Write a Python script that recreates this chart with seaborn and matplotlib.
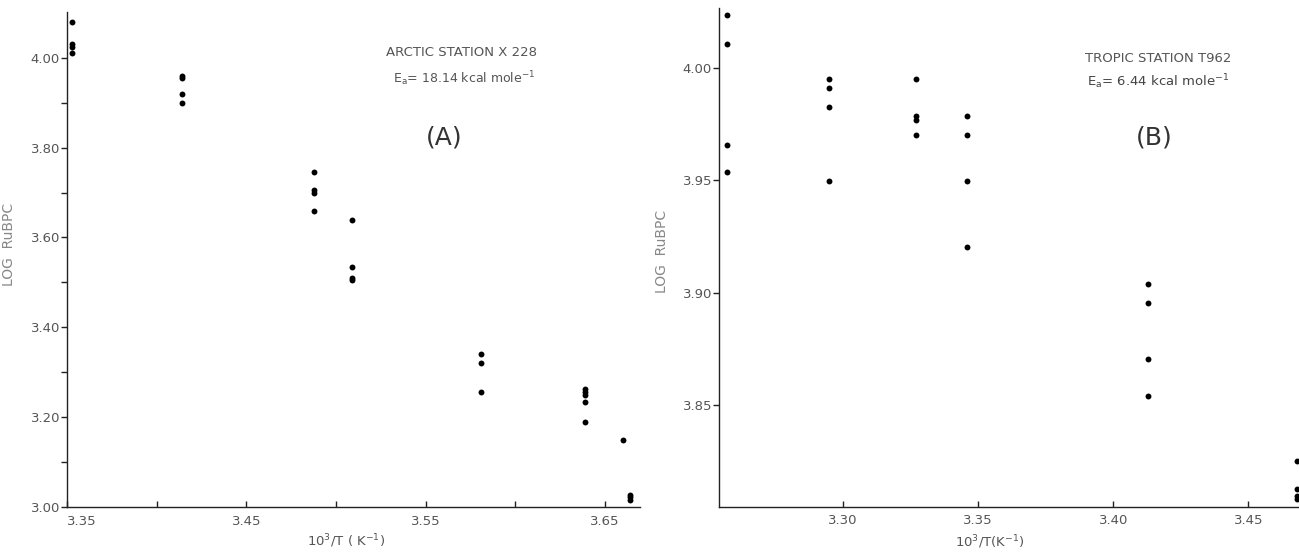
import numpy as np
import pandas as pd
import matplotlib
matplotlib.use("Agg")
import matplotlib.pyplot as plt
import seaborn as sns

# (A) arctic station X 228 : 10^3/T vs log RuBPC
arctic_x = [3.353, 3.353, 3.353, 3.353,
            3.414, 3.414, 3.414, 3.414,
            3.488, 3.488, 3.488, 3.488,
            3.509, 3.509, 3.509, 3.509,
            3.581, 3.581, 3.581,
            3.639, 3.639, 3.639, 3.639, 3.639,
            3.660,
            3.664, 3.664, 3.664]
arctic_y = [4.08, 4.03, 4.025, 4.01,
            3.96, 3.955, 3.92, 3.90,
            3.745, 3.705, 3.70, 3.66,
            3.64, 3.535, 3.51, 3.505,
            3.34, 3.32, 3.255,
            3.262, 3.255, 3.25, 3.233, 3.19,
            3.15,
            3.027, 3.022, 3.015]

# (B) tropic station T962
tropic_x = [3.257, 3.257, 3.257, 3.257,
            3.295, 3.295, 3.295, 3.295,
            3.327, 3.327, 3.327, 3.327,
            3.346, 3.346, 3.346, 3.346,
            3.413, 3.413, 3.413, 3.413,
            3.468, 3.468, 3.468, 3.468]
tropic_y = [4.0235, 4.0105, 3.9655, 3.9535,
            3.995, 3.991, 3.9825, 3.9495,
            3.995, 3.9785, 3.977, 3.970,
            3.9785, 3.970, 3.9495, 3.9205,
            3.904, 3.8955, 3.8705, 3.854,
            3.825, 3.8125, 3.8095, 3.808]

arctic_major_x = [3.35, 3.45, 3.55, 3.65]
arctic_minor_x = [3.40, 3.50, 3.60]
arctic_major_y = [3.00, 3.20, 3.40, 3.60, 3.80, 4.00]
arctic_minor_y = [3.10, 3.30, 3.50, 3.70, 3.90]
tropic_ticks_x = [3.30, 3.35, 3.40, 3.45]
tropic_ticks_y = [3.85, 3.90, 3.95, 4.00]

sns.set_theme(style="ticks")
plt.rcParams["font.family"] = ["DejaVu Sans"]

fig = plt.figure(figsize=(12.99, 5.53), dpi=100)
ax1 = fig.add_axes([0.0516, 0.0832, 0.4411, 0.8951])
ax2 = fig.add_axes([0.5535, 0.0832, 0.4457, 0.9024])

df_a = pd.DataFrame({"x": arctic_x, "y": arctic_y})
df_b = pd.DataFrame({"x": tropic_x, "y": tropic_y})

for ax, df in [(ax1, df_a), (ax2, df_b)]:
    sns.scatterplot(data=df, x="x", y="y", ax=ax, color="black", s=18,
                    linewidth=0, clip_on=False, legend=False)
    sns.despine(ax=ax)
    for sp in ["left", "bottom"]:
        ax.spines[sp].set_color("#222222")
        ax.spines[sp].set_linewidth(1.0)

lab_col = "#555555"

# panel A axes
ax1.set_xlim(3.35, 3.6696)
ax1.set_ylim(3.00, 4.102)
ax1.set_xticks(arctic_major_x)
ax1.set_xticks(arctic_minor_x, minor=True)
ax1.set_yticks(arctic_major_y)
ax1.set_yticks(arctic_minor_y, minor=True)
ax1.set_xticklabels([f"{v:.2f}" for v in arctic_major_x])
ax1.set_yticklabels([f"{v:.2f}" for v in arctic_major_y])
ax1.get_xticklabels()[0].set_ha("left")
ax1.tick_params(axis="x", which="both", direction="in", length=4, width=1,
                color="#222222", pad=6, labelsize=9.5, labelcolor=lab_col)
ax1.tick_params(axis="y", which="both", direction="out", length=4, width=1,
                color="#222222", pad=1, labelsize=9.5, labelcolor=lab_col)

# panel B axes
ax2.set_xlim(3.2542, 3.4683)
ax2.set_ylim(3.8046, 4.0267)
ax2.set_xticks(tropic_ticks_x)
ax2.set_yticks(tropic_ticks_y)
ax2.set_xticklabels([f"{v:.2f}" for v in tropic_ticks_x])
ax2.set_yticklabels([f"{v:.2f}" for v in tropic_ticks_y])
ax2.tick_params(axis="x", direction="in", length=4, width=1,
                color="#222222", pad=5, labelsize=9.5, labelcolor=lab_col)
ax2.tick_params(axis="y", direction="out", length=4, width=1,
                color="#222222", pad=1, labelsize=9.5, labelcolor=lab_col)

ax1.set_xlabel(r"10$^3$/T ( K$^{-1}$)", fontsize=9.5, color=lab_col)
ax1.xaxis.set_label_coords(0.487, -0.052)
ax2.set_xlabel(r"10$^3$/T(K$^{-1}$)", fontsize=9.5, color=lab_col)
ax2.xaxis.set_label_coords(0.468, -0.052)
ax1.set_ylabel("LOG  RuBPC", fontsize=10, color="#888888")
ax1.yaxis.set_label_coords(-0.089, 0.531)
ax2.set_ylabel("LOG  RuBPC", fontsize=10, color="#888888")
ax2.yaxis.set_label_coords(-0.086, 0.513)

# annotations
fig.text(537 / 1299, 1 - 52 / 553, "ARCTIC STATION X 228", ha="right", va="center",
         fontsize=9.5, color="#555555")
fig.text(535 / 1299, 1 - 79 / 553, r"E$_{\mathrm{a}}$= 18.14 kcal mole$^{-1}$",
         ha="right", va="center", fontsize=9, color="#555555")
fig.text(444 / 1299, 1 - 138 / 553, "(A)", ha="center", va="center",
         fontsize=18, color="#333333")

fig.text(1158 / 1299, 1 - 58 / 553, "TROPIC STATION T962", ha="center", va="center",
         fontsize=9.5, color="#555555")
fig.text(1158 / 1299, 1 - 82 / 553, r"E$_{\mathrm{a}}$= 6.44 kcal mole$^{-1}$",
         ha="center", va="center", fontsize=9.5, color="#444444")
fig.text(1154 / 1299, 1 - 138 / 553, "(B)", ha="center", va="center",
         fontsize=18, color="#333333")

fig.savefig("out.png", dpi=100)
